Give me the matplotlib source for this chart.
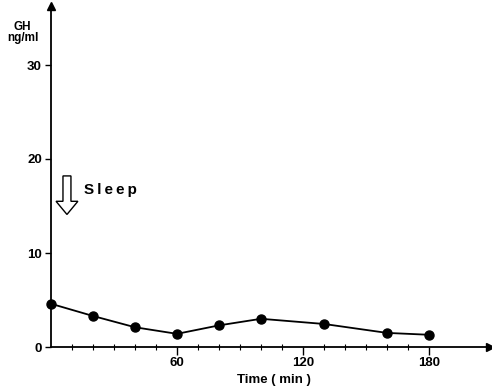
import matplotlib
matplotlib.use("Agg")
import matplotlib.pyplot as plt
from matplotlib.patches import Polygon

time_min = [0, 20, 40, 60, 80, 100, 130, 160, 180]
gh_ngml = [4.6, 3.3, 2.1, 1.4, 2.3, 3.0, 2.45, 1.5, 1.3]
xticks_major = [60, 120, 180]
yticks_major = [0, 10, 20, 30]

plt.rcParams['font.family'] = ['Liberation Sans', 'DejaVu Sans']
plt.rcParams['font.weight'] = 'bold'

fig = plt.figure(figsize=(4.92, 3.91), dpi=100)
ax = fig.add_axes([51/492, 1-347/391, (490-51)/492, (347-6)/391])
xmax = (490-51)/2.1
ymax = (347-6)/9.4
ax.set_xlim(0, xmax)
ax.set_ylim(0, ymax)

ax.plot(time_min, gh_ngml, color='black', lw=1.3, marker='o', ms=6.5, clip_on=False, zorder=5)

for s in ['top', 'right']:
    ax.spines[s].set_visible(False)
for s in ['left', 'bottom']:
    ax.spines[s].set_linewidth(1.3)

ax.set_xticks(xticks_major)
ax.set_xticks(range(10, 190, 10), minor=True)
ax.set_yticks(yticks_major)
ax.tick_params(axis='x', which='major', direction='out', length=6, width=1, labelsize=9.5, pad=1.5)
ax.tick_params(axis='x', which='minor', direction='inout', length=5, width=0.8)
ax.tick_params(axis='y', which='major', direction='out', length=4, width=1, labelsize=9.5, pad=2.5)
for lab in ax.get_xticklabels() + ax.get_yticklabels():
    lab.set_fontweight('bold')

# axis arrowheads
ax.plot([xmax], [0], marker='>', color='black', ms=6, clip_on=False)
ax.plot([0], [ymax], marker='^', color='black', ms=6, clip_on=False)

fig.text(274/492, 1-380.5/391, 'Time ( min )', ha='center', va='center', fontsize=9.5, fontweight='bold')
fig.text(22.5/492, 1-26.5/391, 'GH', ha='center', va='center', fontsize=8.5, fontweight='bold')
fig.text(22.5/492, 1-38/391, 'ng/ml', ha='center', va='center', fontsize=8.5, fontweight='bold')

# Sleep arrow (hollow)
cx = 7.6
shaft_hw, head_hw = 1.9, 5.2
y_top, y_base, y_tip = 18.2, 15.5, 14.1
arrow = Polygon([(cx - shaft_hw, y_top), (cx + shaft_hw, y_top), (cx + shaft_hw, y_base),
                 (cx + head_hw, y_base), (cx, y_tip), (cx - head_hw, y_base),
                 (cx - shaft_hw, y_base)], closed=True, fc='white', ec='black', lw=1.0)
ax.add_patch(arrow)
ax.text(15.8, 16.7, 'S\u2009l\u2009e\u2009e\u2009p', fontsize=11, fontweight='bold', va='center', ha='left')

fig.savefig('out.png', dpi=100)
